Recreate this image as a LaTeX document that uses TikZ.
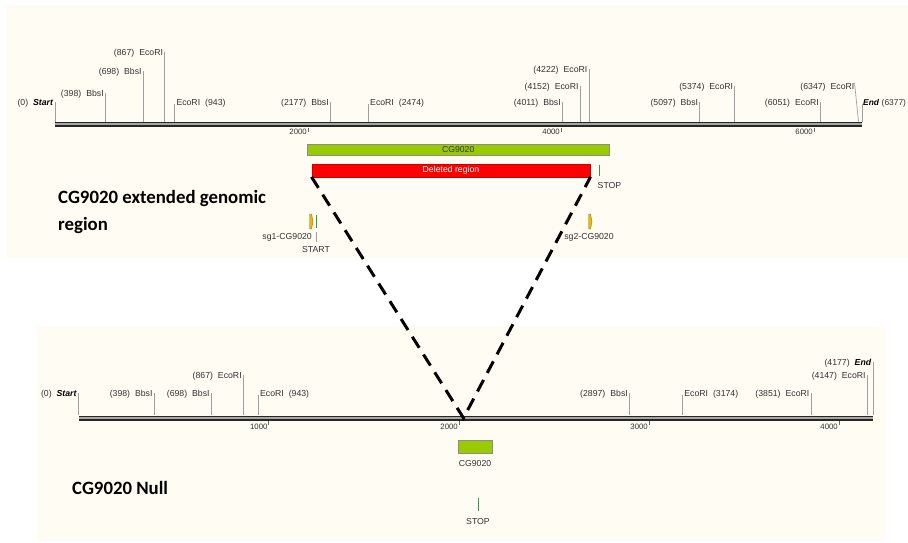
\documentclass[tikz,border=0pt]{standalone}
\usepackage{fontspec}
\setmainfont{Liberation Sans}
\newfontfamily\titlefont{Carlito}
\usetikzlibrary{calc,positioning}

\definecolor{panelbg}{RGB}{255,252,243}
\definecolor{genegreen}{RGB}{153,204,0}
\definecolor{tickgray}{RGB}{160,160,160}
\definecolor{labelgray}{RGB}{50,50,50}
\definecolor{guidegold}{RGB}{232,182,20}
\definecolor{codongreen}{RGB}{60,150,60}

\newcommand{\sgap}{\hspace{5pt}}
\newcommand{\bi}[1]{\textcolor{black}{\textbf{\textit{#1}}}}

\tikzset{
  site/.style={draw=none, inner sep=0pt, text=labelgray,
    font=\fontsize{8.7}{9}\selectfont},
  sitetick/.style={draw=tickgray, line width=0.7pt},
  scalenum/.style={draw=none, inner sep=0pt, text=labelgray,
    font=\fontsize{7.8}{8}\selectfont},
  genebar/.style={draw=black!45, fill=genegreen, inner sep=0pt,
    text=labelgray, font=\fontsize{8.7}{9}\selectfont},
  delbar/.style={draw=red!80!black, fill=red, inner sep=0pt,
    text=white, font=\fontsize{8.7}{9}\selectfont},
  guide/.style={draw=guidegold!70!black, fill=guidegold, line width=0.4pt},
  codon/.style={draw=codongreen, line width=0.8pt},
  junction/.style={line width=3pt, dash pattern=on 13pt off 8pt},
  maptitle/.style={draw=none, inner sep=0pt, align=left,
    font=\titlefont\bfseries\fontsize{18.8}{27}\selectfont}
}

% the double line of a restriction map
\newcommand{\mapaxis}[3]{%
  \fill[black!85] (#1,#3-2.8) rectangle (#2,#3+2.8);
  \fill[black!35] (#1,#3-1.2) rectangle (#2,#3+0.3);}

\begin{document}
\begin{tikzpicture}[x=1pt, y=-1pt]
\useasboundingbox (0,0) rectangle (908,543);

% backgrounds
\fill[panelbg] (6,5) rectangle (908,258);
\fill[panelbg] (37,326) rectangle (886,541);

%%% extended genomic region, 0..6377
\def\axy{124.5}
\mapaxis{55}{862}{\axy}
\foreach \x/\lab in {308/2000, 561/4000, 814/6000} {
  \draw[black!60, line width=0.6pt] (\x,127.5) -- (\x,131.5);
  \node[scalenum, anchor=east] (s\lab) at (\x-1,132) {\lab};
}
% sites with the label on the left
\foreach \x/\y/\txt [count=\i] in {
    55/103/{(0)\sgap\bi{Start}},
    105.4/94/{(398)\sgap BbsI},
    143.3/72/{(698)\sgap BbsI},
    164.7/53/{(867)\sgap EcoRI},
    330.4/103/{(2177)\sgap BbsI},
    562.4/103/{(4011)\sgap BbsI},
    580.2/87/{(4152)\sgap EcoRI},
    589/70/{(4222)\sgap EcoRI},
    699.8/103/{(5097)\sgap BbsI},
    734.8/87/{(5374)\sgap EcoRI},
    820.5/103/{(6051)\sgap EcoRI}} {
  \draw[sitetick] (\x,\axy-3) -- (\x,\y-1);
  \node[site, anchor=east] (tl\i) at (\x-1.5,\y) {\txt};
}
% sites with the label on the right
\foreach \x/\y/\txt [count=\i] in {
    174.3/103/{EcoRI\sgap(943)},
    368/103/{EcoRI\sgap(2474)}} {
  \draw[sitetick] (\x,\axy-3) -- (\x,\y+1);
  \node[site, anchor=west] (tr\i) at (\x+2,\y) {\txt};
}
% end of the map, squeezed against the edge
\draw[sitetick] (862,\axy-3) -- (862,104);
\node[site, anchor=west, font=\fontsize{8.4}{9}\selectfont] (tr3) at (863,103) {\bi{End}\hspace{2.5pt}(6377)};
% 6347 sits too close to the end, its tick leans over
\node[site, anchor=east] (tl12) at (854.5,87) {(6347)\sgap EcoRI};
\draw[sitetick] (858.5,\axy-3) -- (tl12.north east);

% gene and deletion
\node[genebar, minimum width=301.7pt, minimum height=11pt] (gene) at (458.2,149.5) {CG9020};
\node[delbar, minimum width=278.6pt, minimum height=12.4pt] (del) at (451,170.5) {Deleted region};
\draw[codon] (599,165) -- (599,175.5);
\node[site, anchor=west] (stop) at (597.5,186) {STOP};

% guides
\draw[guide] (309.5,214) -- (311.5,214) -- (313,221.5) -- (311.5,229) -- (309.5,229) -- cycle;
\draw[codon] (316.7,215) -- (316.7,228);
\node[site, anchor=east] (sg1) at (312,237.3) {sg1-CG9020};
\draw[sitetick] (316.7,232) -- (316.7,242);
\node[site] (start) at (316,250) {START};
\draw[guide] (588.5,214) -- (590.5,214) -- (592,221.5) -- (590.5,229) -- (588.5,229) -- cycle;
\node[site] (sg2) at (589,237.3) {sg2-CG9020};

\node[maptitle, anchor=west] (title1) at (58,211.5) {CG9020 extended genomic\\region};

%%% null allele, 0..4177
\def\axy{418.3}
\mapaxis{78.5}{873}{\axy}
\foreach \x/\lab in {268.7/1000, 459/2000, 649/3000, 839/4000} {
  \draw[black!60, line width=0.6pt] (\x,421.3) -- (\x,425.3);
  \node[scalenum, anchor=east] (n\lab) at (\x-1,426.7) {\lab};
}
\foreach \x/\y/\txt [count=\i] in {
    78.5/394/{(0)\sgap\bi{Start}},
    154.2/394/{(398)\sgap BbsI},
    211.3/394/{(698)\sgap BbsI},
    243.4/376/{(867)\sgap EcoRI},
    629.5/394/{(2897)\sgap BbsI},
    811/394/{(3851)\sgap EcoRI},
    867.3/376/{(4147)\sgap EcoRI},
    873/363/{(4177)\sgap\bi{End}}} {
  \draw[sitetick] (\x,\axy-3) -- (\x,\y-1);
  \node[site, anchor=east] (bl\i) at (\x-1.5,\y) {\txt};
}
\foreach \x/\y/\txt [count=\i] in {
    257.9/394/{EcoRI\sgap(943)},
    682.2/394/{EcoRI\sgap(3174)}} {
  \draw[sitetick] (\x,\axy-3) -- (\x,\y+1);
  \node[site, anchor=west] (br\i) at (\x+2,\y) {\txt};
}

\node[genebar, minimum width=34pt, minimum height=13pt] (nullgene) at (475,446.5) {};
\node[site] (nulllab) at (475,463.5) {CG9020};
\draw[codon] (478,498) -- (478,511);
\node[site] (nullstop) at (478,522) {STOP};

\node[maptitle, anchor=west] (title2) at (72,488) {CG9020 Null};

% the deleted stretch collapses to one point
\coordinate (join) at (463.5,418);
\draw[junction] (del.south west) -- (join) -- (del.south east);
\end{tikzpicture}
\end{document}
